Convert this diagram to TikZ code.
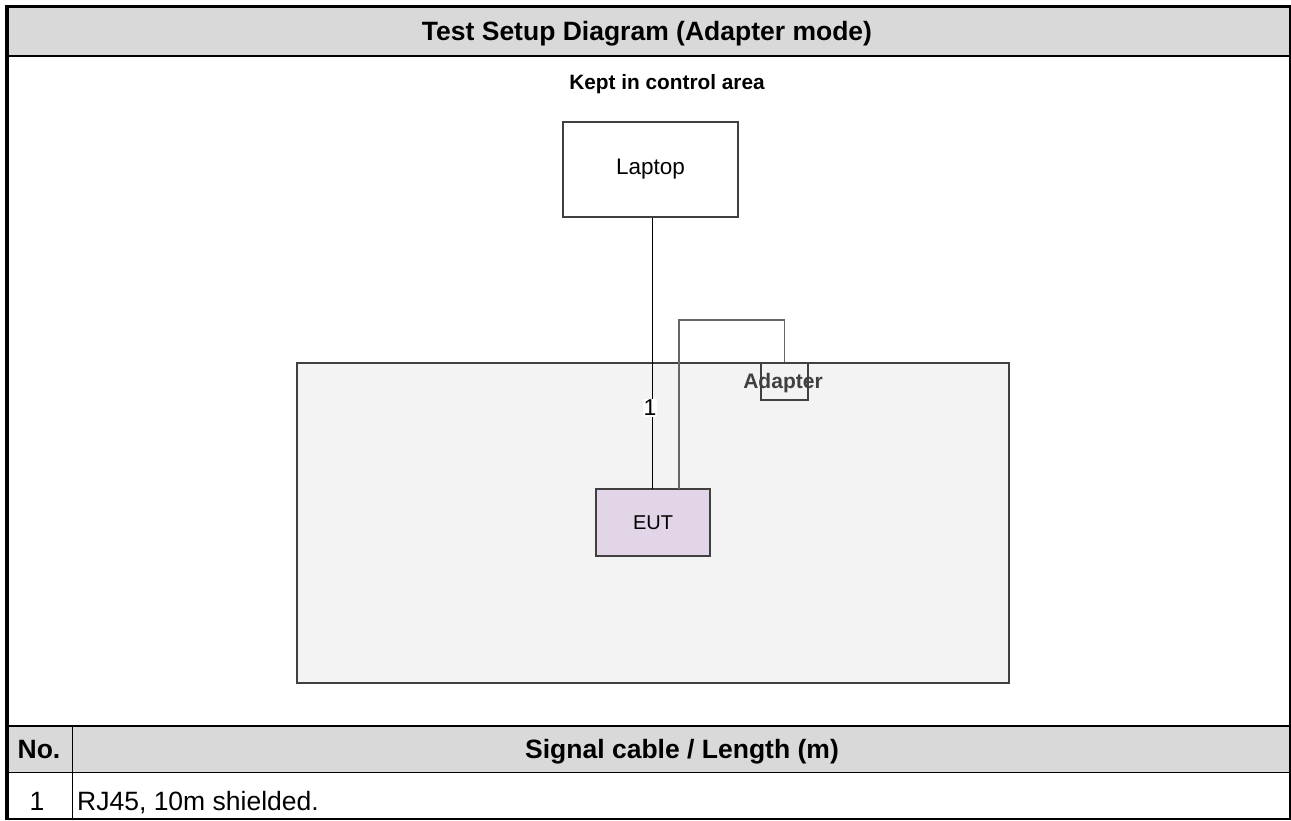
\documentclass[tikz,border=0pt]{standalone}
\usepackage{fontspec}
\setmainfont{Liberation Sans}
\definecolor{hdrgray}{HTML}{D9D9D9}
\definecolor{areagray}{HTML}{F3F3F3}
\definecolor{eutfill}{HTML}{E1D5E7}
\begin{document}
\begin{tikzpicture}[x=1pt,y=-1pt,
  hdr/.style={fill=hdrgray},
  boxline/.style={draw=black!75, line width=1.2pt},
  cable/.style={draw=black, line width=1pt},
  acable/.style={draw=black!60, line width=1.5pt},
  big/.style={font=\fontsize{26.5}{30}\selectfont},
  bigb/.style={font=\fontsize{26.5}{30}\bfseries\selectfont}]
\useasboundingbox (0,0) rectangle (1291,820);
\fill[white] (0,0) rectangle (1291,820);
% header fill
\fill[hdr] (9,8) rectangle (1290,55);
\fill[hdr] (9,727) rectangle (1290,772);
% table lines
\draw[line width=3pt] (5,6.5) -- (1291,6.5);
\draw[line width=4pt] (7,5) -- (7,820);
\draw[line width=1.2pt] (1290,5) -- (1290,820);
\draw[line width=2pt] (9,56) -- (1290,56);
\draw[line width=1.2pt] (9,726) -- (1290,726);
\draw[line width=1.2pt] (9,772.5) -- (1290,772.5);
\draw[line width=1.2pt] (9,819) -- (1290,819);
\draw[line width=1.2pt] (72.5,726) -- (72.5,820);
% header texts
\node[bigb, anchor=base] (title) at (647,40) {Test Setup Diagram (Adapter mode)};
\node[bigb, anchor=base] (no) at (39,758) {No.};
\node[bigb, anchor=base] (sig) at (682,758) {Signal cable / Length (m)};
\node[big, anchor=base] (n1) at (37,810) {1};
\node[big, anchor=base west, inner sep=0pt] (desc) at (77,810) {RJ45, 10m shielded.};
% diagram
\node[font=\fontsize{20.8}{24}\bfseries\selectfont, anchor=base] (kept) at (667,89) {Kept in control area};
\draw[boxline, fill=areagray] (297,363) rectangle (1009,683);
\node[boxline, fill=white, minimum width=175pt, minimum height=95pt, inner sep=0pt, font=\fontsize{22.5}{26}\selectfont] (laptop) at (650.5,169.5) {Laptop};
\node[boxline, fill=eutfill, minimum width=114pt, minimum height=67pt, inner sep=0pt, font=\fontsize{20}{24}\selectfont] (eut) at (653,522.5) {EUT};
\node[boxline, minimum width=47pt, minimum height=37pt, inner sep=0pt] (adapter) at (784.5,381.5) {};
\node[font=\fontsize{21}{25}\bfseries\selectfont, text=black!75] (adlbl) at (783,383) {Adapter};
\coordinate (ce) at (652,489);
\draw[cable] (laptop.south -| ce) -- (ce);
\node[fill=white, inner sep=1pt, font=\fontsize{23}{27}\selectfont] (one) at (650,408) {1};
\coordinate (ae) at (679,489);
\coordinate (c1) at (679,320);
\coordinate (c2) at (784.5,320);
\draw[acable] (ae) -- (c1) -- (c2) -- (adapter.north);
\end{tikzpicture}
\end{document}
